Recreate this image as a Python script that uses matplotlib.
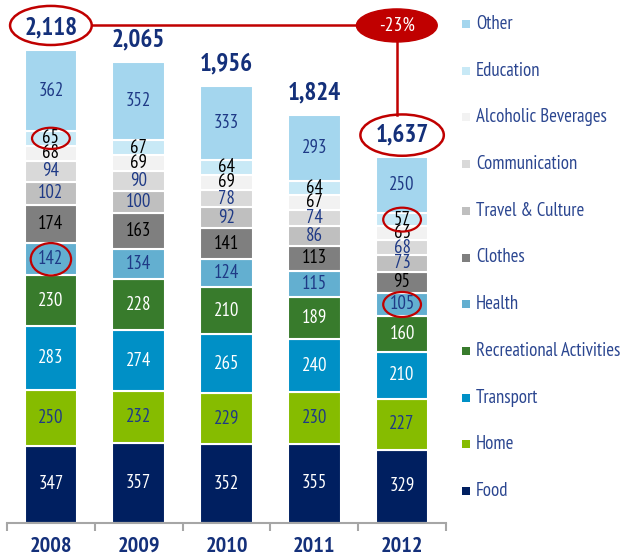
import matplotlib
matplotlib.use("Agg")
import matplotlib.pyplot as plt
from matplotlib.patches import Ellipse, Rectangle
import numpy as np

plt.rcParams['font.family'] = ['PT Sans Narrow', 'Liberation Sans', 'DejaVu Sans']

years = ["2008", "2009", "2010", "2011", "2012"]
categories = ["Food", "Home", "Transport", "Recreational Activities", "Health",
              "Clothes", "Travel & Culture", "Communication",
              "Alcoholic Beverages", "Education", "Other"]
values = {
    "Food": [347, 357, 352, 355, 329],
    "Home": [250, 232, 229, 230, 227],
    "Transport": [283, 274, 265, 240, 210],
    "Recreational Activities": [230, 228, 210, 189, 160],
    "Health": [142, 134, 124, 115, 105],
    "Clothes": [174, 163, 141, 113, 95],
    "Travel & Culture": [102, 100, 92, 86, 73],
    "Communication": [94, 90, 78, 74, 68],
    "Alcoholic Beverages": [68, 69, 69, 67, 63],
    "Education": [65, 67, 64, 64, 57],
    "Other": [362, 352, 333, 293, 250],
}
totals = [2118, 2065, 1956, 1824, 1637]
change_label = "-23%"

colors = {
    "Food": "#001F60",
    "Home": "#86BC00",
    "Transport": "#0090C6",
    "Recreational Activities": "#387B2C",
    "Health": "#63AFD0",
    "Clothes": "#7F7F7F",
    "Travel & Culture": "#BFBFBF",
    "Communication": "#D9D9D9",
    "Alcoholic Beverages": "#F2F2F2",
    "Education": "#C8E9F6",
    "Other": "#A4D6EE",
}
navy = "#1F3A86"
text_colors = {
    "Food": "white", "Home": navy, "Transport": "white",
    "Recreational Activities": "white", "Health": navy, "Clothes": "black",
    "Travel & Culture": navy, "Communication": navy,
    "Alcoholic Beverages": "black", "Education": "black", "Other": navy,
}
red = "#C00000"

fig = plt.figure(figsize=(6.26, 5.58), dpi=100)
ax = fig.add_axes([7 / 626, 35 / 558, 439 / 626, 523 / 558])

x = np.arange(len(years))
bottom = np.zeros(len(years))
centers = {}
for cat in categories:
    vals = np.array(values[cat])
    ax.bar(x, vals, 0.6, bottom=bottom, color=colors[cat],
           edgecolor="white", linewidth=1.5)
    centers[cat] = bottom + vals / 2
    for xi, v, c in zip(x, vals, centers[cat]):
        ax.text(xi, c, str(v), ha="center", va="center", fontsize=13.5,
                color=text_colors[cat])
    bottom = bottom + vals

off = 100
for xi, t in zip(x, totals):
    ax.text(xi, t + off, f"{t:,}", ha="center", va="center", fontsize=18,
            fontweight="bold", color="#14307A")

ax.set_xlim(-0.5, 4.5)
ax.set_ylim(0, 2342)

# highlight ellipses
ytop = totals[0] + off + 10
ax.add_patch(Ellipse((0, ytop), 0.93, 175, fill=False, edgecolor=red,
                     linewidth=1.8, clip_on=False))
ax.add_patch(Ellipse((4, totals[4] + off), 0.95, 185, fill=False,
                     edgecolor=red, linewidth=1.8, clip_on=False))
ax.add_patch(Ellipse((3.94, ytop), 0.92, 148, facecolor=red, edgecolor=red,
                     clip_on=False, zorder=5))
ax.text(3.94, ytop, change_label, ha="center", va="center", fontsize=14,
        color="white", zorder=6)
ax.plot([0.465, 3.48], [ytop, ytop], color=red, linewidth=1.8,
        clip_on=False)
ax.plot([3.94, 3.94], [ytop - 74, totals[4] + off + 92], color=red,
        linewidth=1.8, clip_on=False)
for cat, i, w, h in [("Education", 0, 0.43, 95), ("Health", 0, 0.46, 145),
                     ("Education", 4, 0.43, 107), ("Health", 4, 0.43, 112)]:
    ax.add_patch(Ellipse((i, centers[cat][i]), w, h, fill=False,
                         edgecolor=red, linewidth=1.6, zorder=4))

for s in ["top", "right", "left"]:
    ax.spines[s].set_visible(False)
ax.spines["bottom"].set_color("#A6A6A6")
ax.spines["bottom"].set_linewidth(1.5)
ax.set_yticks([])
ax.set_xticks(np.arange(-0.5, 5, 1))
ax.set_xticklabels([])
ax.tick_params(axis="x", length=6, width=1.5, color="#A6A6A6")
for xi, yr in zip(x, years):
    ax.text(xi, -105, yr, ha="center", va="center", fontsize=16,
            fontweight="bold", color="#14307A", clip_on=False)

# legend
for i, cat in enumerate(reversed(categories)):
    yp = 558 - (24 + i * 46.7)
    fig.patches.append(Rectangle((462 / 626, (yp - 4) / 558), 8 / 626,
                                 8 / 558, transform=fig.transFigure,
                                 facecolor=colors[cat], edgecolor="none"))
    fig.text(476 / 626, yp / 558, cat, ha="left", va="center", fontsize=13.5,
             color="#2B4690")

fig.savefig("out.png", dpi=100)
